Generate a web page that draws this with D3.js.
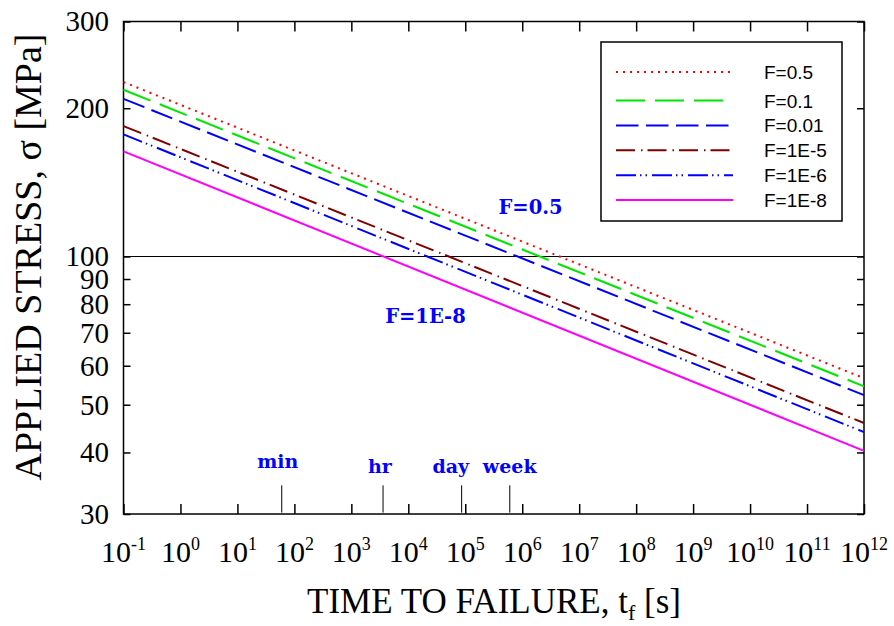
<!DOCTYPE html>
<html>
<head>
<meta charset="utf-8">
<title>Applied stress vs time to failure</title>
<style>
  body { margin: 0; background: #fff; }
  svg { display: block; }
</style>
</head>
<body>
<div id="chart"></div>
<script src="https://cdn.jsdelivr.net/npm/d3@7/dist/d3.min.js"></script>
<script>
// series: stress at t = 1e-1 s and at t = 1e12 s
var seriesNames = ["F=0.5", "F=0.1", "F=0.01", "F=1E-5", "F=1E-6", "F=1E-8"];
var timeEnds = [0.1, 1e12];
var stressStart = [226, 218, 209, 184, 177, 163.5];
var stressEnd = [56.6, 54.5, 52.3, 45.9, 44.0, 40.3];
var seriesColors = ["#ff0000", "#00e600", "#0000ff", "#800000", "#0000ff", "#ff00ff"];
var seriesDashes = ["2,5", "29,10", "22.5,7.5", "19,6,1.5,5", "20,4,1.5,4,1.5,5", null];

var xTicks = [-1, 0, 1, 2, 3, 4, 5, 6, 7, 8, 9, 10, 11, 12];
var yTicks = [30, 40, 50, 60, 70, 80, 90, 100, 200, 300];

// time marks (seconds)
var eventNames = ["min", "hr", "day", "week"];
var eventTimes = [60, 3600, 86400, 604800];
var eventLabelTimes = [51, 3160, 55700, 603000];
var eventLabelStress = [37.2, 36.3, 36.3, 36.3];

// in-plot notes
var noteTexts = ["F=0.5", "F=1E-8"];
var noteTimes = [1.4e6, 2e4];
var noteStress = [121.8, 73.2];

var width = 894, height = 626;
var plotLeft = 123.5, plotRight = 864, plotTop = 21.5, plotBottom = 514;

var svg = d3.select("#chart").append("svg")
    .attr("width", width)
    .attr("height", height);

var x = d3.scaleLog().domain([0.1, 1e12]).range([plotLeft, plotRight]);
var y = d3.scaleLog().domain([30, 300]).range([plotBottom, plotTop]);

// horizontal reference at 100 MPa
svg.append("line")
    .attr("x1", plotLeft).attr("x2", plotRight)
    .attr("y1", y(100)).attr("y2", y(100))
    .attr("stroke", "#000").attr("stroke-width", 1.2);

// axes (ticks pointing inward)
var xVals = xTicks.map(function(k) { return Math.pow(10, k); });

svg.append("g")
    .attr("transform", "translate(0," + plotBottom + ")")
    .call(d3.axisBottom(x).tickValues(xVals).tickSizeInner(-10).tickSizeOuter(0).tickFormat(""))
    .call(function(g) { g.select(".domain").remove(); });

svg.append("g")
    .attr("transform", "translate(0," + plotTop + ")")
    .call(d3.axisTop(x).tickValues(xVals).tickSizeInner(-10).tickSizeOuter(0).tickFormat(""))
    .call(function(g) { g.select(".domain").remove(); });

var yAxisL = svg.append("g")
    .attr("transform", "translate(" + plotLeft + ",0)")
    .call(d3.axisLeft(y).tickValues(yTicks).tickSizeInner(-7).tickSizeOuter(0)
      .tickPadding(14.5).tickFormat(d3.format("d")));
yAxisL.select(".domain").remove();
yAxisL.selectAll("text")
    .attr("font-family", "'Liberation Serif', 'Times New Roman', serif")
    .attr("font-size", 29)
    .attr("fill", "#000");

svg.append("g")
    .attr("transform", "translate(" + plotRight + ",0)")
    .call(d3.axisRight(y).tickValues(yTicks).tickSizeInner(-7).tickSizeOuter(0).tickFormat(""))
    .call(function(g) { g.select(".domain").remove(); });

svg.selectAll(".tick line").attr("stroke", "#000").attr("stroke-width", 1.5);

// x tick labels 10^k
var xl = svg.append("g")
    .attr("font-family", "'Liberation Serif', 'Times New Roman', serif")
    .attr("fill", "#000");
xTicks.forEach(function(k) {
  var t = xl.append("text")
      .attr("x", x(Math.pow(10, k)))
      .attr("y", 561.5)
      .attr("text-anchor", "middle")
      .attr("font-size", 30);
  t.append("tspan").text("10");
  t.append("tspan").attr("font-size", 18).attr("dy", -12).text(String(k));
});

// frame
svg.append("rect")
    .attr("x", plotLeft).attr("y", plotTop)
    .attr("width", plotRight - plotLeft).attr("height", plotBottom - plotTop)
    .attr("fill", "none").attr("stroke", "#000").attr("stroke-width", 1.5);

// series lines
var line = d3.line()
    .x(function(d) { return x(d[0]); })
    .y(function(d) { return y(d[1]); });

seriesNames.forEach(function(name, i) {
  var pts = [[timeEnds[0], stressStart[i]], [timeEnds[1], stressEnd[i]]];
  svg.append("path")
      .datum(pts)
      .attr("d", line)
      .attr("fill", "none")
      .attr("stroke", seriesColors[i])
      .attr("stroke-width", 2)
      .attr("stroke-dasharray", seriesDashes[i]);
});

// event markers
eventNames.forEach(function(name, i) {
  svg.append("line")
      .attr("x1", x(eventTimes[i])).attr("x2", x(eventTimes[i]))
      .attr("y1", y(30.2)).attr("y2", y(34.3))
      .attr("stroke", "#000").attr("stroke-width", 1);
  svg.append("text")
      .attr("x", x(eventLabelTimes[i]))
      .attr("y", y(eventLabelStress[i]))
      .attr("text-anchor", "middle")
      .attr("font-family", "'DejaVu Serif', serif")
      .attr("font-weight", "bold")
      .attr("font-size", 19)
      .attr("fill", "#0000ff")
      .text(name);
});

// notes
noteTexts.forEach(function(txt, i) {
  svg.append("text")
      .attr("x", x(noteTimes[i]))
      .attr("y", y(noteStress[i]))
      .attr("text-anchor", "middle")
      .attr("font-family", "'DejaVu Serif', serif")
      .attr("font-weight", "bold")
      .attr("font-size", 19.5)
      .attr("fill", "#0000ff")
      .text(txt);
});

// legend
var legend = svg.append("g");
legend.append("rect")
    .attr("x", 601).attr("y", 42)
    .attr("width", 241).attr("height", 179)
    .attr("fill", "#fff").attr("stroke", "#000").attr("stroke-width", 1.5);

seriesNames.forEach(function(name, i) {
  var ly = i === 0 ? 72 : 100.5 + (i - 1) * 24.9;
  legend.append("line")
      .attr("x1", 616).attr("x2", 733)
      .attr("y1", ly).attr("y2", ly)
      .attr("stroke", seriesColors[i])
      .attr("stroke-width", 2)
      .attr("stroke-dasharray", seriesDashes[i]);
  legend.append("text")
      .attr("x", 764).attr("y", ly + 7)
      .attr("font-family", "'Liberation Sans', Arial, sans-serif")
      .attr("font-size", 19)
      .attr("fill", "#000")
      .text(name);
});

// axis titles
var xt = svg.append("text")
    .attr("x", 494).attr("y", 613)
    .attr("text-anchor", "middle")
    .attr("font-family", "'Liberation Serif', 'Times New Roman', serif")
    .attr("font-size", 35)
    .attr("fill", "#000");
xt.append("tspan").text("TIME TO FAILURE, t");
xt.append("tspan").attr("font-size", 22).attr("dy", 7).text("f");
xt.append("tspan").attr("dy", -7).text(" [s]");

svg.append("text")
    .attr("transform", "translate(41,257) rotate(-90)")
    .attr("text-anchor", "middle")
    .attr("font-family", "'Liberation Serif', 'Times New Roman', serif")
    .attr("font-size", 38)
    .attr("fill", "#000")
    .text("APPLIED STRESS, \u03c3 [MPa]");
</script>
</body>
</html>
